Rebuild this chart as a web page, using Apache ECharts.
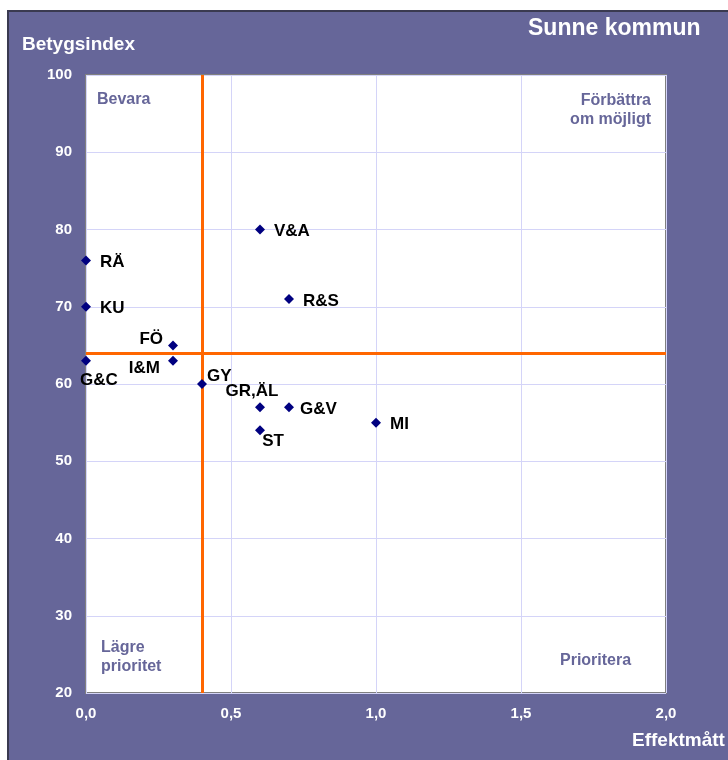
<!DOCTYPE html>
<html>
<head>
<meta charset="utf-8">
<title>Sunne kommun</title>
<script src="https://cdn.jsdelivr.net/npm/echarts@6/dist/echarts.min.js"></script>
<style>
  html, body { margin: 0; padding: 0; background: #fff; overflow: hidden; }
  #frame { position: absolute; left: 7px; top: 10px; width: 740px; height: 770px;
           background: #666699; border-top: 2px solid #3a3a50; border-left: 2px solid #3a3a50; }
  #main { position: absolute; left: 0; top: 0; width: 728px; height: 760px; }
</style>
</head>
<body>
<div id="frame"></div>
<div id="main"></div>
<script>
// områden (kortnamn) med effektmått och betygsindex
var names  = ['V&A', 'RÄ', 'KU', 'R&S', 'FÖ', 'I&M', 'G&C', 'GY', 'GR,ÄL', 'G&V', 'ST', 'MI'];
var effekt = [0.6, 0, 0, 0.7, 0.3, 0.3, 0, 0.4, 0.6, 0.7, 0.6, 1.0];
var betyg  = [80, 76, 70, 71, 65, 63, 63, 60, 57, 57, 54, 55];

// gränslinjer för kvadranterna
var effektGrans = 0.4;
var betygGrans = 64;

var xTicks = [0, 0.5, 1, 1.5, 2];
var yTicks = [20, 30, 40, 50, 60, 70, 80, 90, 100];

var FONT = '"Liberation Sans", Arial, sans-serif';

// var etiketterna hamnar runt punkten
var labelPlace = {
  'FÖ':    { position: 'left',   distance: 5, offset: [0, -6] },
  'I&M':   { position: 'left',   distance: 8, offset: [0, 7] },
  'G&C':   { position: 'bottom', distance: 5, offset: [13, 1] },
  'GY':    { position: 'right',  distance: 0, offset: [0, -8] },
  'GR,ÄL': { position: 'top',    distance: 5, offset: [-8, 3] },
  'ST':    { position: 'bottom', distance: 5, offset: [13, -8] },
  'G&V':   { position: 'right',  distance: 6, offset: [0, 2] }
};

var chart = echarts.init(document.getElementById('main'));

var points = names.map(function (n, i) {
  var p = { name: n, value: [effekt[i], betyg[i]] };
  if (labelPlace[n]) {
    p.label = labelPlace[n];
  }
  return p;
});

function quadStyle(txt) {
  return { text: txt, fill: '#666699', font: 'bold 16px ' + FONT, lineHeight: 19 };
}

chart.setOption({
  backgroundColor: 'transparent',
  animation: false,
  textStyle: { fontFamily: FONT },
  grid: {
    left: 86, top: 75, width: 580, height: 618,
    show: true, backgroundColor: '#ffffff', borderColor: '#808080', borderWidth: 2
  },
  xAxis: {
    type: 'value', min: xTicks[0], max: xTicks[xTicks.length - 1], interval: 0.5,
    axisLine: { show: false }, axisTick: { show: false },
    splitLine: { lineStyle: { color: '#d4d4f8', width: 1 } },
    axisLabel: {
      color: '#ffffff', fontWeight: 'bold', fontSize: 15, margin: 13,
      formatter: function (v) { return v.toFixed(1).replace('.', ','); }
    }
  },
  yAxis: {
    type: 'value', min: yTicks[0], max: yTicks[yTicks.length - 1], interval: 10,
    axisLine: { show: false }, axisTick: { show: false },
    splitLine: { lineStyle: { color: '#d4d4f8', width: 1 } },
    axisLabel: { color: '#ffffff', fontWeight: 'bold', fontSize: 15, margin: 14 }
  },
  series: [{
    type: 'scatter',
    symbol: 'diamond',
    symbolSize: 10,
    itemStyle: { color: '#000080', opacity: 1 },
    label: {
      show: true, position: 'right', distance: 9, offset: [0, 2],
      formatter: '{b}', color: '#000000', fontWeight: 'bold', fontSize: 17
    },
    data: points,
    markLine: {
      silent: true, symbol: 'none',
      label: { show: false },
      lineStyle: { color: '#ff6600', width: 3, type: 'solid' },
      data: [{ xAxis: effektGrans }, { yAxis: betygGrans }]
    },
    z: 5
  }],
  graphic: [
    { type: 'text', left: 528, top: 17, style: { text: 'Sunne kommun', fill: '#ffffff', font: 'bold 23px ' + FONT } },
    { type: 'text', left: 22, top: 35, style: { text: 'Betygsindex', fill: '#ffffff', font: 'bold 19px ' + FONT } },
    { type: 'text', left: 632, top: 731, style: { text: 'Effektmått', fill: '#ffffff', font: 'bold 19px ' + FONT } },
    { type: 'text', left: 97, top: 90, style: quadStyle('Bevara') },
    { type: 'text', right: 77, top: 91, style: quadStyle('Förbättra') },
    { type: 'text', right: 77, top: 110, style: quadStyle('om möjligt') },
    { type: 'text', left: 101, top: 638, style: quadStyle('Lägre\nprioritet') },
    { type: 'text', left: 560, top: 651, style: quadStyle('Prioritera') }
  ]
});
</script>
</body>
</html>
